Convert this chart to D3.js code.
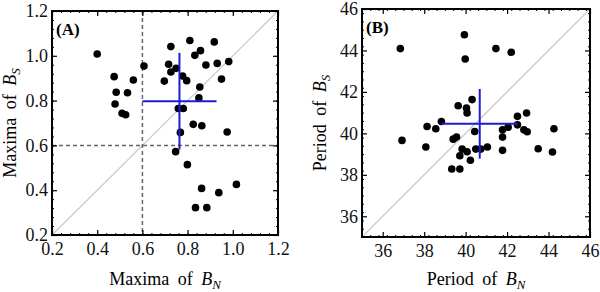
<!DOCTYPE html>
<html>
<head>
<meta charset="utf-8">
<script src="https://cdn.jsdelivr.net/npm/d3@7"></script>
<style>
  body { margin: 0; background: #fff; }
  svg { font-family: "Liberation Serif", "DejaVu Serif", serif; }
</style>
</head>
<body>
<div id="chart"></div>
<script>
// panel A: maxima of B_N vs B_S
var maxN = [0.40, 0.475, 0.484, 0.479, 0.534, 0.560, 0.510, 0.526, 0.607, 0.697,
            0.716, 0.726, 0.726, 0.749, 0.778, 0.796, 0.810, 0.832, 0.857, 0.881,
            0.918, 0.931, 0.982, 0.950, 0.854, 0.850, 0.759, 0.781, 0.825, 0.863,
            0.768, 0.975, 0.747, 0.799, 0.862, 0.938, 1.016, 0.835, 0.885];
var maxS = [1.008, 0.907, 0.837, 0.785, 0.835, 0.892, 0.743, 0.737, 0.954, 0.887,
            0.962, 1.041, 0.928, 0.944, 0.910, 0.889, 1.068, 1.002, 1.023, 0.959,
            1.062, 0.966, 0.974, 0.896, 0.861, 0.812, 0.765, 0.765, 0.694, 0.688,
            0.658, 0.660, 0.572, 0.514, 0.408, 0.389, 0.426, 0.322, 0.322];
var meanMax = {x: 0.764, y: 0.797, sx: 0.164, sy: 0.216};

// panel B: periods of B_N vs B_S
var perN = [36.85, 36.93, 39.94, 39.98, 41.46, 42.20, 38.14, 38.56, 38.83, 38.08,
            39.64, 40.04, 40.07, 40.31, 39.40, 39.56, 40.44, 39.83, 40.07, 39.72,
            40.23, 39.33, 39.72, 40.49, 40.73, 41.05, 41.78, 41.78, 41.78, 42.05,
            42.50, 42.94, 42.50, 42.81, 42.97, 43.50, 44.19, 44.26];
var perS = [44.09, 39.66, 44.76, 43.59, 44.09, 43.91, 40.33, 40.22, 40.57, 39.34,
            41.33, 41.22, 40.98, 41.63, 39.72, 39.82, 40.09, 39.24, 39.11, 38.92,
            38.70, 38.28, 38.28, 39.24, 39.24, 39.34, 40.17, 39.82, 39.18, 40.30,
            40.82, 40.98, 40.41, 40.17, 40.08, 39.26, 39.10, 40.22];
var meanPer = {x: 40.68, y: 40.46, sx: 1.85, sy: 1.68};

var ticksA = [0.2, 0.4, 0.6, 0.8, 1.0, 1.2];
var ticksB = [36, 38, 40, 42, 44, 46];

var svg = d3.select("#chart").append("svg")
  .attr("width", 600)
  .attr("height", 292);

function drawPanel(opt) {
  var x = d3.scaleLinear().domain(opt.domain).range([opt.left, opt.right]);
  var y = d3.scaleLinear().domain(opt.domain).range([opt.bottom, opt.top]);
  var g = svg.append("g");

  var minor = d3.range(opt.domain[0], opt.domain[1] + 1e-9, opt.minorStep);

  // diagonal
  g.append("line")
    .attr("x1", x(opt.domain[0])).attr("y1", y(opt.domain[0]))
    .attr("x2", x(opt.domain[1])).attr("y2", y(opt.domain[1]))
    .attr("stroke", "#cccccc")
    .attr("stroke-width", 1.3);

  // dashed reference lines
  (opt.refs || []).forEach(function(r) {
    g.append("line")
      .attr("x1", x(r)).attr("x2", x(r))
      .attr("y1", opt.top).attr("y2", opt.bottom)
      .attr("stroke", "#666").attr("stroke-width", 1.5)
      .attr("stroke-dasharray", "4,3");
    g.append("line")
      .attr("x1", opt.left).attr("x2", opt.right)
      .attr("y1", y(r)).attr("y2", y(r))
      .attr("stroke", "#666").attr("stroke-width", 1.5)
      .attr("stroke-dasharray", "4,3");
  });

  // points
  g.selectAll("circle")
    .data(opt.xs)
    .enter()
    .append("circle")
      .attr("cx", function(d) { return x(d); })
      .attr("cy", function(d, i) { return y(opt.ys[i]); })
      .attr("r", 3.8)
      .attr("fill", "#000");

  // mean +/- std cross
  var m = opt.mean;
  g.append("line")
    .attr("x1", x(m.x - m.sx)).attr("x2", x(m.x + m.sx))
    .attr("y1", y(m.y)).attr("y2", y(m.y))
    .attr("stroke", "#1c1cd6").attr("stroke-width", 2);
  g.append("line")
    .attr("x1", x(m.x)).attr("x2", x(m.x))
    .attr("y1", y(m.y - m.sy)).attr("y2", y(m.y + m.sy))
    .attr("stroke", "#1c1cd6").attr("stroke-width", 2);

  // frame ticks (inward), major + minor on all four sides
  var axes = [
    [d3.axisBottom(x), "translate(0," + opt.bottom + ")", true, 7],
    [d3.axisTop(x), "translate(0," + opt.top + ")", false, 3],
    [d3.axisLeft(y), "translate(" + opt.left + ",0)", true, 4],
    [d3.axisRight(y), "translate(" + opt.right + ",0)", false, 3]
  ];
  axes.forEach(function(a) {
    var ax = a[0];
    g.append("g")
      .attr("transform", a[1])
      .call(ax.tickValues(minor).tickSize(-2).tickFormat(""))
      .call(function(s) { s.select(".domain").remove(); });
    var gm = g.append("g")
      .attr("transform", a[1])
      .call(ax.tickValues(opt.ticks).tickSizeInner(-5).tickSizeOuter(0)
        .tickPadding(a[3])
        .tickFormat(a[2] ? opt.fmt : ""))
      .call(function(s) { s.select(".domain").remove(); });
    gm.attr("font-family", null).attr("font-size", 18);
    gm.selectAll("line").attr("stroke-width", 1.2);
    gm.selectAll("text").attr("fill", "#111");
  });

  g.append("rect")
    .attr("x", opt.left).attr("y", opt.top)
    .attr("width", opt.right - opt.left)
    .attr("height", opt.bottom - opt.top)
    .attr("fill", "none")
    .attr("stroke", "#000")
    .attr("stroke-width", 2);

  // panel tag
  g.append("text")
    .attr("x", opt.left + 4).attr("y", opt.top + 24)
    .attr("font-size", 17).attr("font-weight", "bold")
    .text(opt.tag);

  // axis labels
  var xl = g.append("text")
    .attr("x", (opt.left + opt.right) / 2)
    .attr("y", 285)
    .attr("text-anchor", "middle")
    .attr("font-size", 18)
    .attr("word-spacing", 4);
  xl.append("tspan").text(opt.name + " of ");
  xl.append("tspan").attr("font-style", "italic").text("B");
  xl.append("tspan").attr("font-style", "italic").attr("font-size", 13)
    .attr("dy", 4).text("N");

  var yl = g.append("text")
    .attr("transform", "translate(" + opt.ylabX + "," + ((opt.top + opt.bottom) / 2) + ") rotate(-90)")
    .attr("text-anchor", "middle")
    .attr("font-size", 18)
    .attr("word-spacing", 4);
  yl.append("tspan").text(opt.name + " of ");
  yl.append("tspan").attr("font-style", "italic").text("B");
  yl.append("tspan").attr("font-style", "italic").attr("font-size", 13)
    .attr("dy", 4).text("S");
}

drawPanel({
  tag: "(A)", name: "Maxima",
  domain: [0.2, 1.2], minorStep: 0.04, ticks: ticksA, fmt: d3.format(".1f"),
  left: 52, right: 278, top: 11, bottom: 235, ylabX: 16,
  xs: maxN, ys: maxS, mean: meanMax, refs: [0.6]
});

drawPanel({
  tag: "(B)", name: "Period",
  domain: [35, 46], minorStep: 0.4, ticks: ticksB, fmt: d3.format("d"),
  left: 362, right: 590, top: 9, bottom: 237, ylabX: 326,
  xs: perN, ys: perS, mean: meanPer, refs: []
});
</script>
</body>
</html>
